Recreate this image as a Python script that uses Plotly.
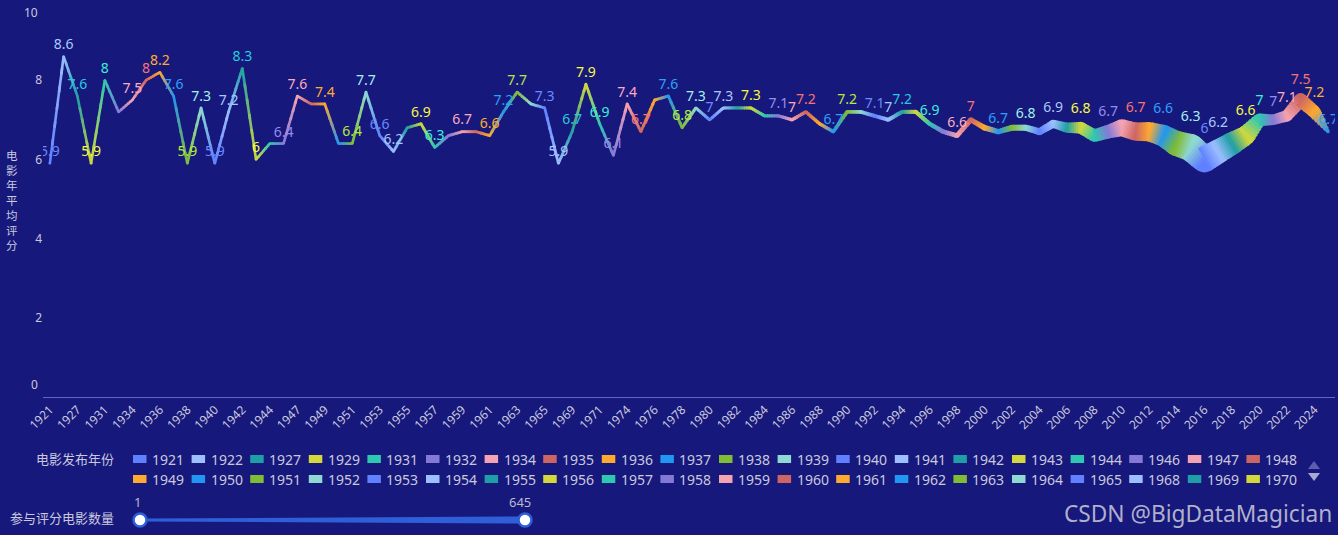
import plotly.graph_objects as go

# ---------------- data ----------------
years = [1921, 1922, 1927, 1929, 1931, 1932, 1934, 1935, 1936, 1937, 1938, 1939,
         1940, 1941, 1942, 1943, 1944, 1946, 1947, 1948, 1949, 1950, 1951, 1952,
         1953, 1954, 1955, 1956, 1957, 1958, 1959, 1960, 1961, 1962, 1963, 1964,
         1965, 1968, 1969, 1970, 1971, 1972, 1974, 1975, 1976, 1977, 1978, 1979,
         1980, 1981, 1982, 1983, 1984, 1985, 1986, 1987, 1988, 1989, 1990, 1991,
         1992, 1993, 1994, 1995, 1996, 1997, 1998, 1999, 2000, 2001, 2002, 2003,
         2004, 2005, 2006, 2007, 2008, 2009, 2010, 2011, 2012, 2013, 2014, 2015,
         2016, 2017, 2018, 2019, 2020, 2021, 2022, 2023, 2024, 2025]

ratings = [5.9, 8.6, 7.6, 5.9, 8.0, 7.2, 7.5, 8.0, 8.2, 7.6, 5.9, 7.3,
           5.9, 7.2, 8.3, 6.0, 6.4, 6.4, 7.6, 7.4, 7.4, 6.4, 6.4, 7.7,
           6.6, 6.2, 6.8, 6.9, 6.3, 6.6, 6.7, 6.7, 6.6, 7.2, 7.7, 7.4,
           7.3, 5.9, 6.7, 7.9, 6.9, 6.1, 7.4, 6.7, 7.5, 7.6, 6.8, 7.3,
           7.0, 7.3, 7.3, 7.3, 7.1, 7.1, 7.0, 7.2, 6.9, 6.7, 7.2, 7.2,
           7.1, 7.0, 7.2, 7.2, 6.9, 6.7, 6.6, 7.0, 6.8, 6.7, 6.8, 6.8,
           6.7, 6.9, 6.8, 6.8, 6.6, 6.7, 6.8, 6.7, 6.7, 6.6, 6.4, 6.3,
           6.0, 6.2, 6.4, 6.6, 7.0, 7.0, 7.1, 7.5, 7.2, 6.7]

movie_counts = [1, 1, 1, 2, 1, 2, 2, 3, 2, 3, 2, 3,
                2, 3, 4, 2, 3, 2, 4, 3, 5, 4, 3, 5,
                4, 6, 5, 7, 6, 8, 7, 9, 8, 7, 9, 8,
                6, 5, 7, 6, 5, 4, 6, 8, 10, 9, 11, 12,
                14, 13, 15, 16, 18, 17, 20, 22, 24, 26, 28, 30,
                33, 35, 38, 40, 45, 52, 58, 65, 80, 70, 88, 92,
                115, 140, 200, 240, 262, 290, 375, 410, 440, 500, 590, 645,
                615, 560, 525, 440, 265, 205, 235, 295, 265, 15]

# years whose value label is hidden (overlap hiding in the original)
hidden_label_years = [1932, 1944, 1948, 1950, 1955, 1958, 1960, 1964, 1976, 1982,
                      1984, 1988, 1991, 1995, 1997, 2000, 2002, 2004, 2006, 2008,
                      2010, 2012, 2014, 2018]

line_palette = ["#6080ff", "#9dbfff", "#1e9ea6", "#d4d83a", "#2ec8b0", "#8579d8",
                "#f4a3b2", "#cd6663", "#ffaa2e", "#2196f3", "#80bc34", "#8fd9d2"]
label_palette = ["#6a8aff", "#aac8ff", "#26cbdc", "#f8fa3c", "#3cf0d6", "#968cf0",
                 "#fcacc0", "#f77472", "#ffae30", "#2aa2fc", "#b4ea3c", "#a2f2ee"]

y_title = "电影年平均评分"
legend_title = "电影发布年份"
slider_title = "参与评分电影数量"
watermark = "CSDN @BigDataMagician"

# ---------------- layout geometry ----------------
W, H = 1338, 535
L, R, T, B = 43, 3, 1, 138
PW, PH = W - L - R, H - T - B
BG = "#17187c"
TXT = "#c9c9de"
FONT = "Noto Sans, Noto Sans CJK SC, sans-serif"
CLEAR = "rgba(0,0,0,0)"


def px(x):
    return (x - L) / PW


def py(y):
    return (H - B - y) / PH


def hex2rgb(h):
    h = h.lstrip("#")
    return tuple(int(h[k:k + 2], 16) for k in (0, 2, 4))


def mix(c1, c2, t):
    a, b = hex2rgb(c1), hex2rgb(c2)
    return "rgb(%d,%d,%d)" % tuple(round(a[k] + (b[k] - a[k]) * t) for k in range(3))


n = len(years)
xs = list(range(n))
cmin, cmax = min(movie_counts), max(movie_counts)
widths = [2.6 + 24.5 * (c - cmin) / (cmax - cmin) for c in movie_counts]
lcols = [line_palette[i % 12] for i in range(n)]
tcols = [label_palette[i % 12] for i in range(n)]

fig = go.Figure()

# joints (round joins)
fig.add_trace(go.Scatter(x=xs, y=ratings, mode="markers",
                         marker=dict(size=widths, color=lcols, opacity=1,
                                     line=dict(width=0, color=CLEAR)),
                         hoverinfo="skip", showlegend=False))

# gradient line pieces with varying width
K = 6
for i in range(n - 1):
    for j in range(K):
        t0 = j / K
        t1 = min((j + 1.35) / K, 1.0)
        tm = (j + 0.5) / K
        x0, x1 = i + t0, i + t1
        y0 = ratings[i] + (ratings[i + 1] - ratings[i]) * t0
        y1 = ratings[i] + (ratings[i + 1] - ratings[i]) * t1
        w = widths[i] + (widths[i + 1] - widths[i]) * tm
        fig.add_trace(go.Scatter(x=[x0, x1], y=[y0, y1], mode="lines",
                                 line=dict(color=mix(lcols[i], lcols[i + 1], tm), width=w),
                                 hoverinfo="skip", showlegend=False))

# value labels
labels = ["" if yr in hidden_label_years else f"{v:g}" for yr, v in zip(years, ratings)]
label_sizes = [4 + 1.3 * (w - 2.6) for w in widths]
fig.add_trace(go.Scatter(x=xs, y=ratings, mode="markers+text", text=labels,
                         textposition="top center",
                         textfont=dict(size=14, color=tcols, family=FONT),
                         marker=dict(size=label_sizes, color=CLEAR, opacity=0,
                                     line=dict(width=0, color=CLEAR)),
                         hoverinfo="skip", showlegend=False))

shapes = []
annotations = []

# y axis title, stacked characters
annotations.append(dict(x=px(12), y=py(200), xref="paper", yref="paper",
                        text="<br>".join(y_title), showarrow=False,
                        xanchor="center", yanchor="middle", align="center",
                        font=dict(size=11.5, color=TXT, family=FONT)))

# end tick labels of y axis (drawn inset as in the original)
for val, ypos in ((10, 12), (0, 384)):
    annotations.append(dict(x=px(40), y=py(ypos), xref="paper", yref="paper",
                            text=str(val), showarrow=False, xanchor="right", yanchor="middle",
                            font=dict(size=12, color=TXT, family=FONT)))

# legend of years (first page)
annotations.append(dict(x=px(116), y=py(459), xref="paper", yref="paper", text=legend_title,
                        showarrow=False, xanchor="right", yanchor="middle",
                        font=dict(size=13, color=TXT, family=FONT)))
for k in range(40):
    row, col = divmod(k, 20)
    x0 = 133 + 58.6 * col
    yc = 459 + 20 * row
    shapes.append(dict(type="rect", xref="paper", yref="paper",
                       x0=px(x0), x1=px(x0 + 13.5), y0=py(yc + 4), y1=py(yc - 4),
                       fillcolor=line_palette[k % 12], line=dict(width=0)))
    annotations.append(dict(x=px(x0 + 17), y=py(yc), xref="paper", yref="paper",
                            text=str(years[k]), showarrow=False, xanchor="left", yanchor="middle",
                            font=dict(size=14, color=TXT, family=FONT)))


# legend page arrows
def tri(cx, cy, up, color):
    if up:
        pts = [(cx - 6, cy + 4), (cx + 6, cy + 4), (cx, cy - 4)]
    else:
        pts = [(cx - 6, cy - 4), (cx + 6, cy - 4), (cx, cy + 4)]
    path = "M " + " L ".join(f"{px(a)},{py(b)}" for a, b in pts) + " Z"
    return dict(type="path", xref="paper", yref="paper", path=path,
                fillcolor=color, line=dict(width=0))


shapes.append(tri(1314, 465, True, "#5d5fae"))
shapes.append(tri(1314, 477, False, "#a9aad4"))

# size slider
SL, SR, SY = 140, 525, 520
track = [(SL, SY - 1.5), (SR, SY - 3.5), (SR, SY + 3.5), (SL, SY + 1.5)]
shapes.append(dict(type="path", xref="paper", yref="paper",
                   path="M " + " L ".join(f"{px(a)},{py(b)}" for a, b in track) + " Z",
                   fillcolor="#2e5fd8", line=dict(width=0)))
for hx in (SL, SR):
    shapes.append(dict(type="circle", xref="paper", yref="paper",
                       x0=px(hx - 6.5), x1=px(hx + 6.5), y0=py(SY + 6.5), y1=py(SY - 6.5),
                       fillcolor="#ffffff", line=dict(color="#2e5fd8", width=2.5)))
annotations.append(dict(x=px(116), y=py(518), xref="paper", yref="paper", text=slider_title,
                        showarrow=False, xanchor="right", yanchor="middle",
                        font=dict(size=13, color=TXT, family=FONT)))
annotations.append(dict(x=px(SL - 3), y=py(502), xref="paper", yref="paper", text=str(cmin),
                        showarrow=False, xanchor="center", yanchor="middle",
                        font=dict(size=13, color="#b9b9cf", family=FONT)))
annotations.append(dict(x=px(SR - 5), y=py(502), xref="paper", yref="paper", text=str(cmax),
                        showarrow=False, xanchor="center", yanchor="middle",
                        font=dict(size=13, color="#b9b9cf", family=FONT)))

# watermark
annotations.append(dict(x=px(1334), y=py(513), xref="paper", yref="paper", text=watermark,
                        showarrow=False, xanchor="right", yanchor="middle",
                        font=dict(size=22.7, color="rgba(205,205,220,0.85)", family=FONT)))

even = list(range(0, n, 2))
fig.update_layout(
    width=W, height=H,
    margin=dict(l=L, r=R, t=T, b=B, pad=0),
    paper_bgcolor=BG, plot_bgcolor=BG,
    showlegend=False,
    font=dict(family=FONT, color=TXT),
    xaxis=dict(range=[-0.5, n - 0.5], tickmode="array", tickvals=even,
               ticktext=[str(years[i]) for i in even], tickangle=-45,
               tickfont=dict(size=12, color=TXT), showgrid=False, zeroline=False,
               showline=True, linecolor="#6466c0", linewidth=1, ticks="", fixedrange=True),
    yaxis=dict(range=[0, 10], tickmode="array", tickvals=[2, 4, 6, 8],
               tickfont=dict(size=12, color=TXT), showgrid=False, zeroline=False,
               showline=False, ticks="", fixedrange=True),
    shapes=shapes,
    annotations=annotations,
)

fig.write_html("out.html")
